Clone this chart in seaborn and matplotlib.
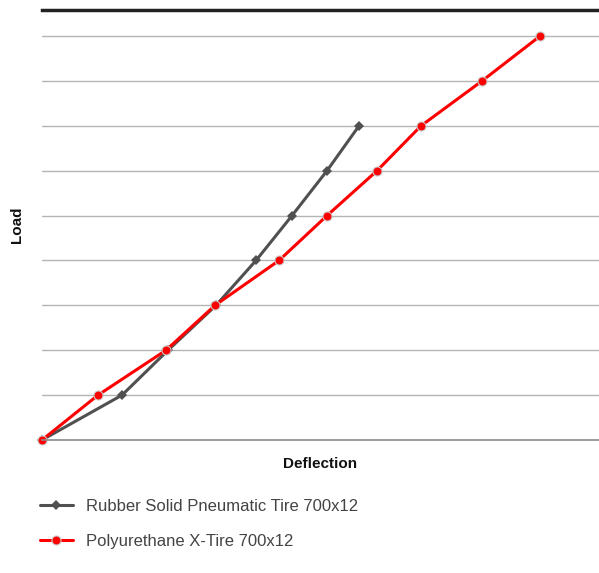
import numpy as np
import pandas as pd
import matplotlib
matplotlib.use("Agg")
import matplotlib.pyplot as plt
import seaborn as sns

# deflection (arbitrary units) and load steps
rubber_deflection = [0, 8.0, 12.6, 17.4, 21.4, 25.0, 28.5, 31.7]
rubber_load = [0, 1, 2, 3, 4, 5, 6, 7]
xtire_deflection = [0, 5.6, 12.4, 17.3, 23.7, 28.5, 33.5, 37.9, 44.0, 49.8]
xtire_load = [0, 1, 2, 3, 4, 5, 6, 7, 8, 9]

rubber_name = "Rubber Solid Pneumatic Tire 700x12"
xtire_name = "Polyurethane X-Tire 700x12"

df = pd.concat([
    pd.DataFrame({"Deflection": rubber_deflection, "Load": rubber_load, "Tire": rubber_name}),
    pd.DataFrame({"Deflection": xtire_deflection, "Load": xtire_load, "Tire": xtire_name}),
])

sns.set_style("white")
plt.rcParams['font.family'] = ['Liberation Sans', 'DejaVu Sans']

fig = plt.figure(figsize=(5.99, 5.73), dpi=100)
ax = fig.add_axes([0.0701, 0.2321, 0.93, 0.7504])

sns.lineplot(data=df[df.Tire == rubber_name], x="Deflection", y="Load", ax=ax,
             color="#505050", lw=2.2, marker="D", markersize=5, markeredgewidth=0,
             label=rubber_name, sort=False, clip_on=False)
sns.lineplot(data=df[df.Tire == xtire_name], x="Deflection", y="Load", ax=ax,
             color="#ff0000", lw=2.2, marker="o", markersize=6.5,
             markeredgecolor="#c8c8c8", markeredgewidth=0.8,
             label=xtire_name, sort=False, clip_on=False)

ax.set_xlim(0, 55.7)
ax.set_ylim(0, 9.58)
ax.set_yticks(range(1, 10))
ax.set_xticks([])
ax.tick_params(left=False, labelleft=False)
ax.grid(axis="y", color="#b4b4b4", lw=1)
ax.set_axisbelow(True)
for s in ["left", "right"]:
    ax.spines[s].set_visible(False)
ax.spines["top"].set_color("#222222")
ax.spines["top"].set_linewidth(2.5)
ax.spines["bottom"].set_color("#8a8a8a")
ax.spines["bottom"].set_linewidth(1.2)

ax.set_xlabel("Deflection", fontsize=11, fontweight="bold", color="#111111", labelpad=12)
ax.set_ylabel("Load", fontsize=11, fontweight="bold", color="#111111", labelpad=13)

leg = ax.legend(loc="upper left", bbox_to_anchor=(0.0664, 0.129), bbox_transform=fig.transFigure,
                frameon=False, fontsize=12, handlelength=2.0, labelspacing=1.2,
                handletextpad=0.75, borderpad=0, borderaxespad=0)
for t in leg.get_texts():
    t.set_color("#444444")

fig.savefig("out.png", dpi=100)
